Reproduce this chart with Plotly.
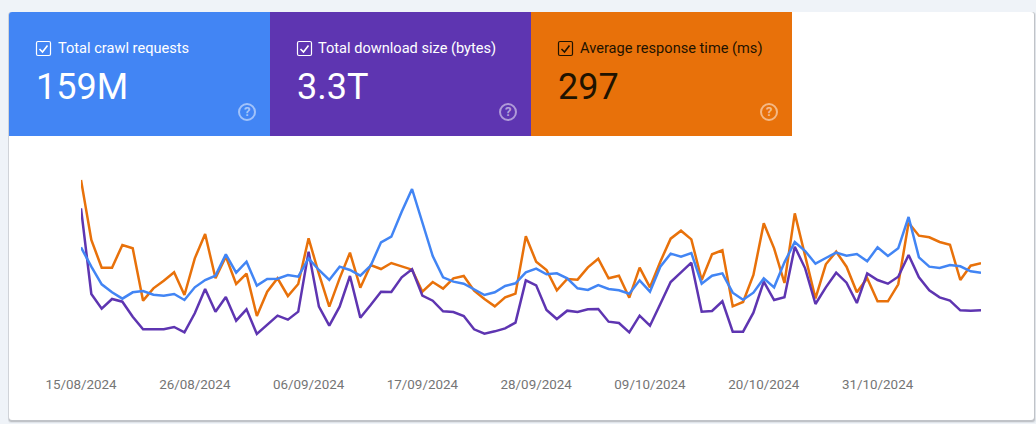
import pandas as pd
import plotly.graph_objects as go

W, H = 1036, 424

# Relative index (each series is independently scaled in the source)
response_time = [510,330,247,247,315,305,148,185,208,233,
                 165,275,348,215,280,198,229,102,175,215,
                 162,198,335,228,130,215,292,187,255,243,
                 261,251,241,175,204,184,215,222,178,153,
                 131,158,169,341,265,240,179,213,211,248,
                 274,215,223,157,247,188,265,334,358,332,
                 210,287,299,131,144,225,380,305,201,410,
                 278,155,257,295,250,173,215,146,146,197,
                 382,343,338,324,316,210,253,260]
download_size = [425,168,124,153,145,100,62,62,62,69,
                 53,110,183,115,159,88,122,48,75,103,
                 91,115,295,130,73,130,222,97,135,175,
                 174,218,242,163,148,116,114,102,62,49,
                 56,65,82,209,194,120,93,118,114,122,
                 123,85,81,53,103,73,138,204,233,262,
                 115,117,146,55,55,112,205,150,158,310,
                 245,138,188,232,202,141,230,210,199,220,
                 285,218,179,158,148,119,118,119]
crawl_requests = [308,250,197,173,154,173,177,166,163,168,
                  150,188,210,223,287,232,265,193,213,214,
                  225,220,275,240,210,250,240,223,253,323,
                  340,415,483,385,282,218,205,199,182,165,
                  173,192,200,233,244,227,230,215,185,180,
                  195,183,179,169,209,175,250,289,280,291,
                  199,223,230,172,151,172,215,188,263,324,
                  297,259,276,292,283,288,266,308,282,305,
                  399,278,250,246,255,251,236,232]
dates = pd.date_range("2024-08-15", periods=len(crawl_requests)).strftime("%Y-%m-%d").tolist()
tick_dates = ["2024-08-15","2024-08-26","2024-09-06","2024-09-17",
              "2024-09-28","2024-10-09","2024-10-20","2024-10-31"]
tick_labels = ["15/08/2024","26/08/2024","06/09/2024","17/09/2024",
               "28/09/2024","09/10/2024","20/10/2024","31/10/2024"]
card_titles = ["Total crawl requests","Total download size (bytes)","Average response time (ms)"]
card_values = ["159M","3.3T","297"]

BLUE, PURPLE, ORANGE = "#4285f4", "#5e35b1", "#e8710a"
DARK = "#1f1300"


def X(p):
    return p / W


def Y(p):
    return 1 - p / H


def path_rect(x0, y0, x1, y1, tl=0, tr=0, br=0, bl=0):
    s = f"M {X(x0+tl)} {Y(y0)} L {X(x1-tr)} {Y(y0)} "
    if tr:
        s += f"Q {X(x1)} {Y(y0)} {X(x1)} {Y(y0+tr)} "
    s += f"L {X(x1)} {Y(y1-br)} "
    if br:
        s += f"Q {X(x1)} {Y(y1)} {X(x1-br)} {Y(y1)} "
    s += f"L {X(x0+bl)} {Y(y1)} "
    if bl:
        s += f"Q {X(x0)} {Y(y1)} {X(x0)} {Y(y1-bl)} "
    s += f"L {X(x0)} {Y(y0+tl)} "
    if tl:
        s += f"Q {X(x0)} {Y(y0)} {X(x0+tl)} {Y(y0)} "
    return s + "Z"


shapes = []
annotations = []


def filled(path, color, opacity=1):
    shapes.append(dict(type="path", path=path, xref="paper", yref="paper",
                       fillcolor=color, opacity=opacity, line=dict(width=0), layer="below"))


# card shadow + card
filled(path_rect(8, 12, 1036, 423, 3, 3, 3, 3), "#000000", 0.06)
filled(path_rect(8.5, 12, 1035, 422, 3, 3, 3, 3), "#000000", 0.14)
filled(path_rect(9, 12, 1034, 420, 3, 3, 3, 3), "#ffffff")

card_x = [9, 270, 531, 792]
card_colors = [BLUE, PURPLE, ORANGE]
text_colors = ["#ffffff", "#ffffff", DARK]
for i in range(3):
    filled(path_rect(card_x[i], 12, card_x[i+1], 136, tl=3 if i == 0 else 0), card_colors[i])
    bx = card_x[i] + 27.5
    tc = text_colors[i]
    shapes.append(dict(type="path", path=path_rect(bx, 41.5, bx+14, 55.5, 1.5, 1.5, 1.5, 1.5),
                       xref="paper", yref="paper", fillcolor="rgba(0,0,0,0)",
                       line=dict(color=tc, width=1.2), layer="above"))
    shapes.append(dict(type="path",
                       path=f"M {X(bx+3)} {Y(49)} L {X(bx+6)} {Y(52)} L {X(bx+11)} {Y(45.5)}",
                       xref="paper", yref="paper", line=dict(color=tc, width=1.6), layer="above"))
    annotations.append(dict(text=card_titles[i], x=X(card_x[i]+46.5), y=Y(48), xref="paper", yref="paper",
                            xanchor="left", yanchor="middle", showarrow=False,
                            font=dict(family="Roboto", size=14.6, color=tc)))
    annotations.append(dict(text=card_values[i], x=X(card_x[i]+25), y=Y(87), xref="paper", yref="paper",
                            xanchor="left", yanchor="middle", showarrow=False,
                            font=dict(family="Roboto", size=36, color=tc)))
    hx = card_x[i] + 238
    shapes.append(dict(type="circle", xref="paper", yref="paper",
                       x0=X(hx-8), x1=X(hx+8), y0=Y(120), y1=Y(104),
                       fillcolor="rgba(0,0,0,0)", line=dict(color="rgba(255,255,255,0.5)", width=2),
                       layer="above"))
    annotations.append(dict(text="<b>?</b>", x=X(hx), y=Y(112), xref="paper", yref="paper",
                            xanchor="center", yanchor="middle", showarrow=False,
                            font=dict(family="Roboto", size=13, color="rgba(255,255,255,0.55)")))

fig = go.Figure()
for name, vals, col in [("Average response time (ms)", response_time, ORANGE),
                        ("Total download size (bytes)", download_size, PURPLE),
                        ("Total crawl requests", crawl_requests, BLUE)]:
    fig.add_trace(go.Scatter(x=dates, y=vals, mode="lines", name=name, cliponaxis=False,
                             line=dict(color=col, width=2.5, shape="linear")))

fig.update_layout(
    width=W, height=H, margin=dict(l=0, r=0, t=0, b=0, pad=0),
    paper_bgcolor="#eff3f8", plot_bgcolor="rgba(0,0,0,0)",
    showlegend=False, shapes=shapes, annotations=annotations,
    xaxis=dict(domain=[X(81), X(981)], range=[dates[0], dates[-1]], type="date", automargin=False,
               tickmode="array", tickvals=tick_dates, ticktext=tick_labels,
               tickangle=0, ticklen=0, showgrid=False, zeroline=False, showline=False,
               tickfont=dict(family="Roboto", size=13.4, color="#757575")),
    yaxis=dict(domain=[Y(375), Y(170)], range=[-75, 540], showgrid=False, zeroline=False,
               automargin=False, showline=False, showticklabels=False, ticklen=0),
)
fig.write_html("out.html", config=dict(displayModeBar=False),
               post_script="document.body.style.margin='0';document.body.style.overflow='hidden';")
